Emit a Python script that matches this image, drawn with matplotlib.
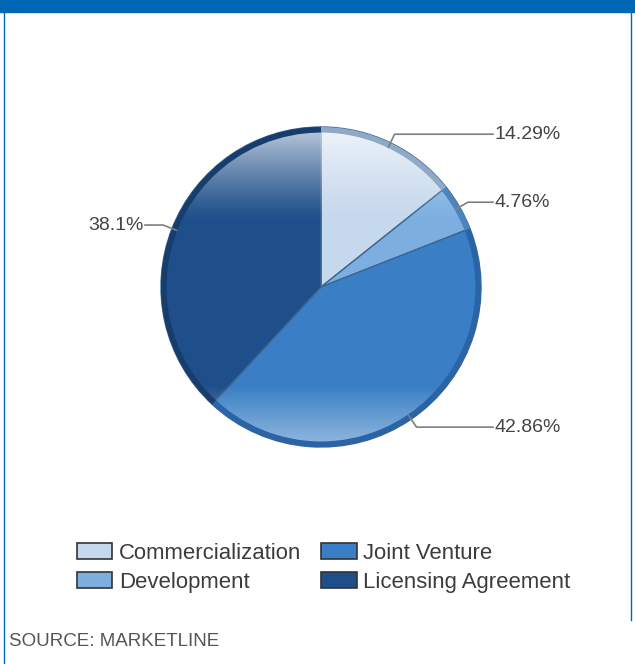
import numpy as np
import matplotlib
matplotlib.use("Agg")
import matplotlib.pyplot as plt
from matplotlib.patches import Rectangle, Circle, Patch
from matplotlib.lines import Line2D

plt.rcParams['font.family'] = ['Liberation Sans', 'DejaVu Sans']

# data
categories = ["Commercialization", "Development", "Joint Venture", "Licensing Agreement"]
shares = [14.29, 4.76, 42.86, 38.1]
labels = ["14.29%", "4.76%", "42.86%", "38.1%"]
colors = ["#c6d8ec", "#7cafe0", "#3a7fc5", "#1f4f8a"]
rim_colors = ["#8fa9c6", "#4d84bd", "#2a64a6", "#173d6d"]

W, H = 635, 664
fig = plt.figure(figsize=(W / 100, H / 100), dpi=100)
fig.patch.set_facecolor("white")

# frame: blue band on top, thin side rules
fig.patches.append(Rectangle((0, 1 - 12 / H), 1, 12 / H, transform=fig.transFigure,
                             color="#0067b4", zorder=0))
fig.lines.append(Line2D([4 / W, 4 / W], [0, 1], transform=fig.transFigure,
                        color="#0067b4", lw=1))
fig.lines.append(Line2D([631 / W, 631 / W], [44 / H, 1], transform=fig.transFigure,
                        color="#0067b4", lw=1))

# pie axes: center (321, 287), radius 160 px
cx, cy, r = 321, 287, 160
ax = fig.add_axes([(cx - r) / W, 1 - (cy + r) / H, 2 * r / W, 2 * r / H])
wedges, _ = ax.pie(shares, colors=colors, startangle=90, counterclock=False,
                   wedgeprops=dict(edgecolor="#3d6690", linewidth=1.0))
ax.pie(shares, colors=rim_colors, startangle=90, counterclock=False, radius=1.0,
       wedgeprops=dict(width=0.035, edgecolor="none"))

# glossy shading, clipped inside the rim
yy = np.linspace(1, -1, 400)[:, None]
top = np.clip((yy - 0.42) / (0.98 - 0.42), 0, 1) ** 1.2 * 0.68
bot = np.clip((-0.62 - yy) / (0.97 - 0.62), 0, 1) * 0.42
alpha = np.repeat(top + bot, 10, axis=1)
rgba = np.ones((400, 10, 4))
rgba[..., 3] = alpha
im = ax.imshow(rgba, extent=[-1, 1, -1, 1], zorder=3, aspect="auto")
im.set_clip_path(Circle((0, 0), 0.965, transform=ax.transData))
ax.set_xlim(-1, 1)
ax.set_ylim(-1, 1)
ax.set_aspect("equal")
ax.axis("off")

# leader lines + labels
for w, lab in zip(wedges, labels):
    mid = np.deg2rad((w.theta1 + w.theta2) / 2)
    p0 = np.array([np.cos(mid), np.sin(mid)]) * 0.97
    p1 = np.array([np.cos(mid), np.sin(mid)]) * 1.06
    side = 1 if np.cos(mid) >= 0 else -1
    xt = 1.075 if side > 0 else -1.1
    ax.plot([p0[0], p1[0], xt], [p0[1], p1[1], p1[1]], color="#7f7f7f", lw=1.2,
            clip_on=False, zorder=4)
    ax.text(xt + 0.01 * side, p1[1], lab, ha="left" if side > 0 else "right",
            va="center", fontsize=14, color="#444444", clip_on=False)

# legend
handles = [Patch(facecolor=c, edgecolor="#333333", linewidth=1.2) for c in colors]
fig.legend(handles, categories, ncol=2,
           loc="upper left", bbox_to_anchor=(77 / W, 1 - 543 / H),
           frameon=False, fontsize=15.9, handlelength=1.6, handleheight=0.75,
           handletextpad=0.3, columnspacing=0.9, labelspacing=0.36,
           labelcolor="#3c3c3c", borderaxespad=0, borderpad=0)

fig.text(9 / W, 1 - 642 / H, "SOURCE: MARKETLINE", fontsize=13.5, color="#555555",
         va="center", ha="left")

fig.savefig("out.png", dpi=100, facecolor="white")
